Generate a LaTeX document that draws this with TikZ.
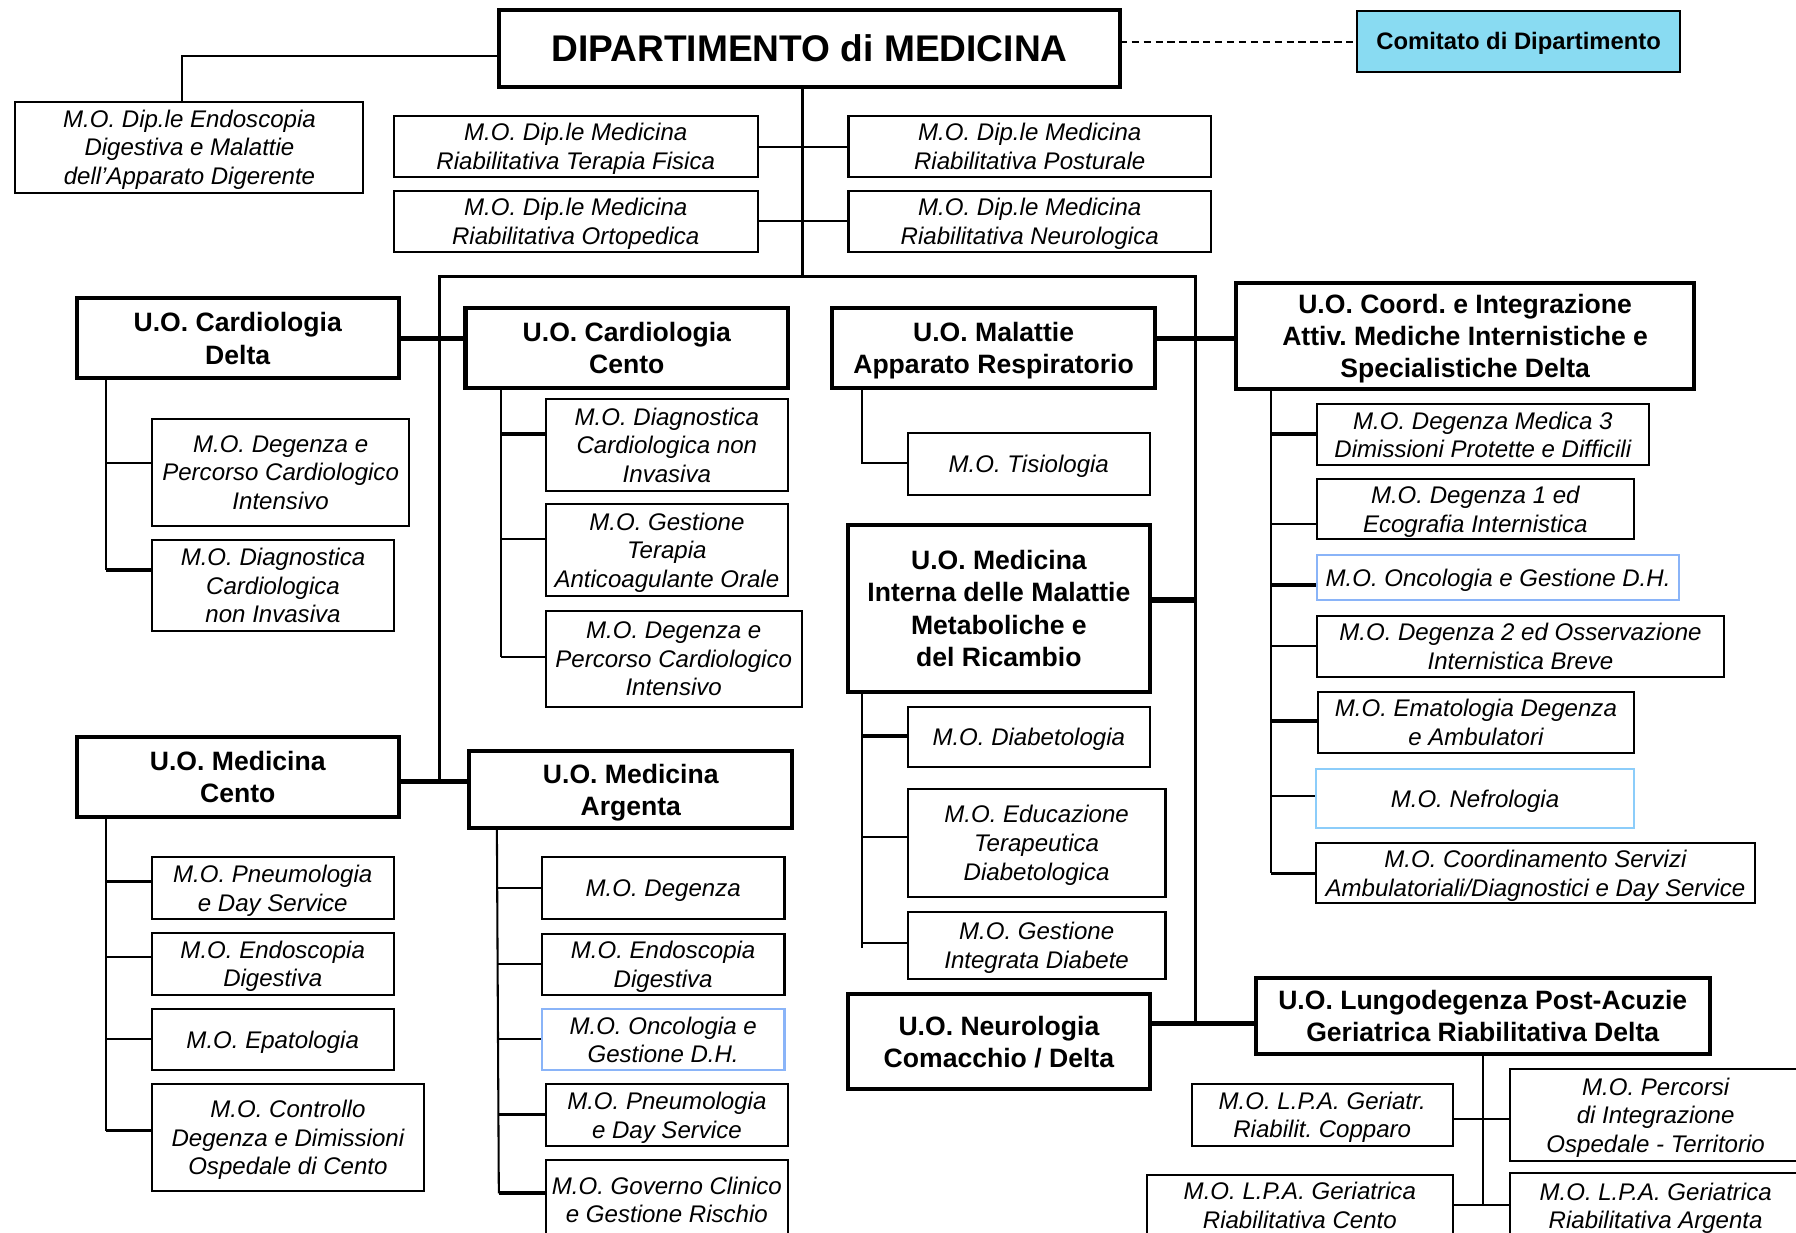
\documentclass[tikz,border=0pt]{standalone}
\usepackage{fontspec}
\setmainfont{Liberation Sans}
\frenchspacing
\definecolor{comfill}{RGB}{137,219,242}
\definecolor{oncob}{RGB}{138,180,248}
\definecolor{nefrob}{RGB}{140,205,250}
\pgfdeclarelayer{bg}
\pgfsetlayers{bg,main}
\newcommand\obox[7]{%
  \pgfmathsetmacro\myBW{(#5-#3)*0.5}%
  \pgfmathsetmacro\myBH{(#6-#4)*0.5}%
  \node[#2,minimum width=\myBW pt,minimum height=\myBH pt] (#1) at ({(#3+#5)/2},{(#4+#6)/2}) {#7};}
\begin{document}
\frenchspacing
\begin{tikzpicture}[x=0.5pt,y=-0.5pt,
  box/.style={draw=black,fill=white,inner sep=0pt,outer sep=0pt,align=center,text=black,text depth=0pt},
  mo/.style={box,line width=0.9pt,font=\fontsize{10.5}{12.5}\selectfont\itshape\frenchspacing},
  uo/.style={box,line width=1.8pt,font=\fontsize{11.6}{14}\selectfont\bfseries\frenchspacing},
  conn/.style={line width=0.9pt},
  tconn/.style={line width=1.6pt},
  xconn/.style={line width=2.3pt},
  bus/.style={line width=1.3pt}]
\useasboundingbox (0,0) rectangle (1568,1076);
\clip (0,0) rectangle (1568,1076);

% ---- top level
\obox{main}{uo,font=\fontsize{16.2}{19}\selectfont\bfseries}{436}{8.7}{977.6}{75.7}{DIPARTIMENTO di MEDICINA}
\obox{comitato}{box,line width=1pt,fill=comfill,font=\fontsize{10.4}{12.5}\selectfont\bfseries}{1184.7}{9.6}{1467}{62.6}{Comitato di Dipartimento}
\obox{endo}{mo}{13.5}{88.8}{317.3}{168.2}{M.O. Dip.le Endoscopia\\Digestiva e Malattie\\dell’Apparato Digerente}
\obox{tf}{mo}{343.8}{101}{661.5}{154.2}{M.O. Dip.le Medicina\\Riabilitativa Terapia Fisica}
\obox{orto}{mo}{343.8}{166.5}{661.5}{220.3}{M.O. Dip.le Medicina\\Riabilitativa Ortopedica}
\obox{post}{mo}{740.8}{101}{1057.2}{154.2}{M.O. Dip.le Medicina\\Riabilitativa Posturale}
\obox{neurol}{mo}{740.8}{166.5}{1057.2}{220.3}{M.O. Dip.le Medicina\\Riabilitativa Neurologica}

% ---- U.O.
\obox{cdelta}{uo}{67.1}{260.5}{348}{330.3}{U.O. Cardiologia\\Delta}
\obox{ccento}{uo}{406.4}{269.2}{688.1}{339}{U.O. Cardiologia\\Cento}
\obox{malattie}{uo}{726.7}{269.2}{1008.2}{339}{U.O. Malattie\\Apparato Respiratorio}
\obox{coord}{uo}{1078.9}{246.8}{1479.3}{339.9}{U.O. Coord. e Integrazione\\Attiv. Mediche Internistiche e\\Specialistiche Delta}
\obox{medint}{uo}{740.4}{458.4}{1003.8}{603.9}{U.O. Medicina\\Interna delle Malattie\\Metaboliche e\\del Ricambio}
\obox{mcento}{uo}{67.1}{643.2}{348}{713.6}{U.O. Medicina\\Cento}
\obox{arg}{uo}{409.6}{655.7}{691.8}{723.2}{U.O. Medicina\\Argenta}
\obox{neuro}{uo}{740.4}{867.8}{1003.8}{951}{U.O. Neurologia\\Comacchio / Delta}
\obox{lungo}{uo}{1096.2}{853.6}{1492.8}{920.5}{U.O. Lungodegenza Post-Acuzie\\Geriatrica Riabilitativa Delta}

% ---- M.O. Cardiologia Delta
\obox{cd1}{mo}{132.9}{365.8}{357.1}{459}{M.O. Degenza e\\Percorso Cardiologico\\Intensivo}
\obox{cd2}{mo}{132.9}{471.5}{343.8}{550.6}{M.O. Diagnostica\\Cardiologica\\non Invasiva}
% ---- M.O. Cardiologia Cento
\obox{cc1}{mo}{476.3}{348.6}{688.1}{428.4}{M.O. Diagnostica\\Cardiologica non\\Invasiva}
\obox{cc2}{mo}{476.3}{440.3}{688.1}{520.3}{M.O. Gestione\\Terapia\\Anticoagulante Orale}
\obox{cc3}{mo}{476.3}{533.2}{700}{617}{M.O. Degenza e\\Percorso Cardiologico\\Intensivo}
% ---- Malattie
\obox{tis}{mo}{792.5}{378.3}{1003.8}{432.2}{M.O. Tisiologia}
% ---- Coord
\obox{co1}{mo}{1149.5}{352.7}{1439.6}{406.3}{M.O. Degenza Medica 3\\Dimissioni Protette e Difficili}
\obox{co2}{mo}{1149.5}{418.5}{1426.5}{470.9}{M.O. Degenza 1 ed\\Ecografia Internistica}
\obox{co3}{mo,draw=oncob}{1149.5}{484.8}{1466.2}{523.8}{M.O. Oncologia e Gestione D.H.}
\obox{co4}{mo}{1149.5}{537.5}{1505.4}{590.8}{M.O. Degenza 2 ed Osservazione\\Internistica Breve}
\obox{co5}{mo}{1150.5}{603.9}{1426.5}{657.1}{M.O. Ematologia Degenza\\e Ambulatori}
\obox{co6}{mo,draw=nefrob}{1149}{671.4}{1426.5}{722.6}{M.O. Nefrologia}
\obox{co7}{mo}{1149}{736}{1532}{788.7}{M.O. Coordinamento Servizi\\Ambulatoriali/Diagnostici e Day Service}
% ---- Medicina Interna
\obox{mi1}{mo}{792.5}{617}{1003.8}{669.9}{M.O. Diabetologia}
\obox{mi2}{mo}{792.5}{688.9}{1017.5}{782.8}{M.O. Educazione\\Terapeutica\\Diabetologica}
\obox{mi3}{mo}{792.5}{796.2}{1017.5}{854.4}{M.O. Gestione\\Integrata Diabete}
% ---- Medicina Cento
\obox{mc1}{mo}{132.4}{748.5}{343.8}{802.3}{M.O. Pneumologia\\e Day Service}
\obox{mc2}{mo}{132.4}{814.6}{343.8}{868.4}{M.O. Endoscopia\\Digestiva}
\obox{mc3}{mo}{132.4}{880.6}{343.8}{934.2}{M.O. Epatologia}
\obox{mc4}{mo}{132.4}{946.4}{370.3}{1039.6}{M.O. Controllo\\Degenza e Dimissioni\\Ospedale di Cento}
% ---- Medicina Argenta
\obox{ar1}{mo}{473}{748.5}{684.9}{802.3}{M.O. Degenza}
\obox{ar2}{mo}{473}{815.2}{684.9}{868.7}{M.O. Endoscopia\\Digestiva}
\obox{ar3}{mo,draw=oncob}{473}{881.2}{684.9}{934.2}{M.O. Oncologia e\\Gestione D.H.}
\obox{ar4}{mo}{476.3}{946.7}{688.1}{1000.2}{M.O. Pneumologia\\e Day Service}
\obox{ar5}{mo}{476.3}{1012.7}{688.1}{1082}{M.O. Governo Clinico\\e Gestione Rischio}
% ---- Lungodegenza
\obox{lp1}{mo}{1040.3}{946.4}{1268.5}{1000.2}{M.O. L.P.A. Geriatr.\\Riabilit. Copparo}
\obox{lp2}{mo}{1317.9}{933.6}{1573}{1013.3}{M.O. Percorsi\\di Integrazione\\Ospedale - Territorio}
\obox{lp3}{mo}{1001.1}{1025.8}{1268.5}{1079}{M.O. L.P.A. Geriatrica\\Riabilitativa Cento}
\obox{lp4}{mo}{1317.9}{1024.4}{1573}{1081}{M.O. L.P.A. Geriatrica\\Riabilitativa Argenta}

\coordinate (busL) at (383.5,241.6);
\coordinate (busT) at (700.7,241.6);
\coordinate (busR) at (1044.1,241.6);

\begin{pgfonlayer}{bg}
% top
\draw[conn] (main.west |- 0,48.9) -| (endo.north -| 158.9,0);
\draw[line width=1pt,dash pattern=on 3.2pt off 2pt] (main.east |- 0,36.4) -- (comitato.west |- 0,36.4);
\draw[bus] (main.south -| busT) -- (busT);
\draw[conn] (tf.east |- 0,128) -- (post.west |- 0,128);
\draw[conn] (orto.east |- 0,193) -- (neurol.west |- 0,193);
\draw[bus] (busL |- 0,682.4) -- (busL) -- (busR) -- (busR |- 0,893.4);
% thick links
\draw[xconn] (cdelta.east |- 0,295.4) -- (ccento.west |- 0,295.4);
\draw[xconn] (malattie.east |- 0,295.4) -- (coord.west |- 0,295.4);
\draw[xconn] (medint.east |- 0,523.8) -- (busR |- 0,523.8);
\draw[xconn] (mcento.east |- 0,682.4) -- (arg.west |- 0,682.4);
\draw[xconn] (neuro.east |- 0,893.4) -- (lungo.west |- 0,893.4);
% Cardiologia Delta
\draw[conn] (cdelta.south -| 92.7,0) -- (92.7,497.6);
\draw[conn] (92.7,404.5) -- (cd1.west |- 0,404.5);
\draw[tconn] (92.7,497.6) -- (cd2.west |- 0,497.6);
% Cardiologia Cento
\draw[conn] (ccento.south -| 437,0) -- (437,573.3);
\draw[tconn] (437,378.9) -- (cc1.west |- 0,378.9);
\draw[conn] (437,470.9) -- (cc2.west |- 0,470.9);
\draw[conn] (437,573.3) -- (cc3.west |- 0,573.3);
% Malattie
\draw[conn] (malattie.south -| 752.9,0) |- (tis.west |- 0,404.5);
% Coord
\draw[conn] (coord.south -| 1109.8,0) -- (1109.8,762.5);
\draw[tconn] (1109.8,378.9) -- (co1.west |- 0,378.9);
\draw[conn] (1109.8,457.5) -- (co2.west |- 0,457.5);
\draw[tconn] (1109.8,510.7) -- (co3.west |- 0,510.7);
\draw[conn] (1109.8,564) -- (co4.west |- 0,564);
\draw[tconn] (1109.8,629.2) -- (co5.west |- 0,629.2);
\draw[conn] (1109.8,695) -- (co6.west |- 0,695);
\draw[tconn] (1109.8,762.5) -- (co7.west |- 0,762.5);
% Medicina Interna
\draw[conn] (medint.south -| 752.9,0) -- (752.9,827.9);
\draw[tconn] (752.9,642.6) -- (mi1.west |- 0,642.6);
\draw[conn] (752.9,730.5) -- (mi2.west |- 0,730.5);
\draw[conn] (752.9,823) -- (mi3.west |- 0,823);
% Medicina Cento
\draw[conn] (mcento.south -| 92.7,0) -- (92.7,987.1);
\draw[tconn] (92.7,769.5) -- (mc1.west |- 0,769.5);
\draw[conn] (92.7,835.2) -- (mc2.west |- 0,835.2);
\draw[conn] (92.7,907.1) -- (mc3.west |- 0,907.1);
\draw[tconn] (92.7,987.1) -- (mc4.west |- 0,987.1);
% Medicina Argenta
\draw[conn] (arg.south -| 433.8,0) -- (435.5,1041.8);
\draw[conn] (433.8,775) -- (ar1.west |- 0,775);
\draw[conn] (434.2,841.6) -- (ar2.west |- 0,841.6);
\draw[conn] (434.6,907.1) -- (ar3.west |- 0,907.1);
\draw[tconn] (435,972.9) -- (ar4.west |- 0,972.9);
\draw[tconn] (435.5,1041.8) -- (ar5.west |- 0,1041.8);
% Lungodegenza
\draw[conn] (lungo.south -| 1294.5,0) -- (1294.5,1052);
\draw[conn] (lp1.east |- 0,976.6) -- (lp2.west |- 0,976.6);
\draw[conn] (lp3.east |- 0,1052) -- (lp4.west |- 0,1052);
\end{pgfonlayer}
\end{tikzpicture}
\end{document}
